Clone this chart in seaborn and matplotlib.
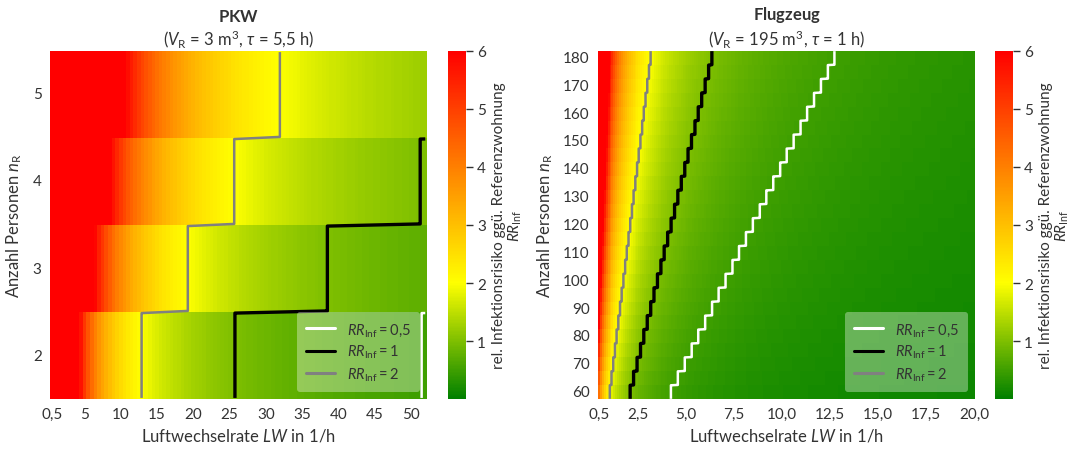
import numpy as np
import pandas as pd
import matplotlib
matplotlib.use("Agg")
import matplotlib.pyplot as plt
import seaborn as sns
from matplotlib.colors import LinearSegmentedColormap
from matplotlib.lines import Line2D

sns.set_theme(style="white")
plt.rcParams['font.family'] = ['Lato', 'DejaVu Sans']
plt.rcParams['mathtext.fontset'] = 'custom'
plt.rcParams['mathtext.rm'] = 'Lato'
plt.rcParams['mathtext.it'] = 'Lato:italic'
plt.rcParams['mathtext.bf'] = 'Lato:bold'
TXT = '#333333'
for k in ['text.color', 'axes.labelcolor', 'xtick.color', 'ytick.color']:
    plt.rcParams[k] = TXT

# ---------------- data ----------------
# PKW: persons (top row first), air change rates LW (1/h) and the LW at which RR_Inf = 1 in each row
pkw_persons = [5, 4, 3, 2]
pkw_lw_rr1 = [63.9, 51.3, 38.5, 25.75]
pkw_lw = np.arange(1, 105) * 0.5            # 0.5 ... 52.0
pkw_xticks = [0.5, 5, 10, 15, 20, 25, 30, 35, 40, 45, 50]
pkw_xticklabels = ["0,5", "5", "10", "15", "20", "25", "30", "35", "40", "45", "50"]

# Flugzeug
flug_persons = [180, 175, 170, 165, 160, 155, 150, 145, 140, 135, 130, 125, 120,
                115, 110, 105, 100, 95, 90, 85, 80, 75, 70, 65, 60]
flug_lw_rr1 = [6.37, 6.20, 6.02, 5.84, 5.66, 5.49, 5.31, 5.13, 4.96, 4.78, 4.60, 4.43, 4.25,
               4.07, 3.89, 3.72, 3.54, 3.36, 3.19, 3.01, 2.83, 2.66, 2.48, 2.30, 2.12]
flug_lw = np.round(np.arange(5, 201) * 0.1, 1)   # 0.5 ... 20.0
flug_xticks = [0.5, 2.5, 5.0, 7.5, 10.0, 12.5, 15.0, 17.5, 20.0]
flug_xticklabels = ["0,5", "2,5", "5,0", "7,5", "10,0", "12,5", "15,0", "17,5", "20,0"]

levels = [0.5, 1, 2]
level_labels = [r"$RR_\mathrm{Inf} = 0{,}5$", r"$RR_\mathrm{Inf} = 1$", r"$RR_\mathrm{Inf} = 2$"]
level_colors = ["white", "black", "grey"]
level_widths = [1.8, 2.4, 1.8]

cmap = LinearSegmentedColormap.from_list(
    "rr", [(0.0, "#008000"), (2 / 6, "#ffff00"), (1.0, "#ff0000")])

fig = plt.figure(figsize=(10.69, 4.52), dpi=100)
ax1 = fig.add_axes([0.0468, 0.115, 0.3527, 0.770])
cax1 = fig.add_axes([0.4191, 0.115, 0.0168, 0.770])
ax2 = fig.add_axes([0.5594, 0.115, 0.3527, 0.770])
cax2 = fig.add_axes([0.9308, 0.115, 0.0168, 0.770])


def panel(ax, cax, persons, lw, lw_rr1, xticks, xticklabels, ytl, title):
    rr = np.outer(np.asarray(lw_rr1), 1.0 / lw)
    df = pd.DataFrame(rr, index=persons, columns=lw)
    sns.heatmap(df, ax=ax, cbar_ax=cax, cmap=cmap, vmin=0, vmax=6,
                xticklabels=False, yticklabels=ytl,
                cbar_kws={"ticks": [1, 2, 3, 4, 5, 6]})
    # step-like contour lines: repeat rows so that contours follow row edges
    m = 40
    Z = np.repeat(df.values, m, axis=0)
    X = np.arange(len(lw)) + 0.5
    Y = (np.arange(len(persons) * m) + 0.5) / m
    for lev, c, w in zip(levels, level_colors, level_widths):
        ax.contour(X, Y, Z, levels=[lev], colors=[c], linewidths=w)
    pos = [int(np.argmin(np.abs(lw - v))) + 0.5 for v in xticks]
    ax.set_xticks(pos)
    ax.set_xticklabels(xticklabels, rotation=0, fontsize=11)
    ax.tick_params(axis='both', length=0, pad=6)
    ax.tick_params(axis='y', labelrotation=0, labelsize=11)
    ax.set_xlabel(r"Luftwechselrate $LW$ in 1/h", fontsize=12, labelpad=4)
    ax.set_ylabel(r"Anzahl Personen $n_\mathrm{R}$", fontsize=12, labelpad=6)
    ax.set_title(title, fontsize=12, linespacing=1.2, pad=5)
    handles = [Line2D([0], [0], color=c, lw=2.2) for c in level_colors]
    leg = ax.legend(handles, level_labels, loc="lower right", fontsize=10.5,
                    frameon=True, framealpha=0.35, facecolor="white",
                    edgecolor="none", handlelength=2.0, borderpad=0.6,
                    labelspacing=0.35, handletextpad=0.8)
    for t in leg.get_texts():
        t.set_color(TXT)
    cax.tick_params(axis='y', length=5, width=1, color=TXT, pad=3, labelsize=11, right=True)
    cax.set_ylabel("rel. Infektionsrisiko ggü. Referenzwohnung\n" + r"$RR_\mathrm{Inf}$",
                   fontsize=11, labelpad=4, linespacing=1.05)


panel(ax1, cax1, pkw_persons, pkw_lw, pkw_lw_rr1, pkw_xticks, pkw_xticklabels, True,
      r"$\mathbf{PKW}$" + "\n" + r"($V_\mathrm{R}$ = 3 m$^3$, $\tau$ = 5,5 h)")
panel(ax2, cax2, flug_persons, flug_lw, flug_lw_rr1, flug_xticks, flug_xticklabels, 2,
      r"$\mathbf{Flugzeug}$" + "\n" + r"($V_\mathrm{R}$ = 195 m$^3$, $\tau$ = 1 h)")

fig.savefig("out.png", dpi=100)
